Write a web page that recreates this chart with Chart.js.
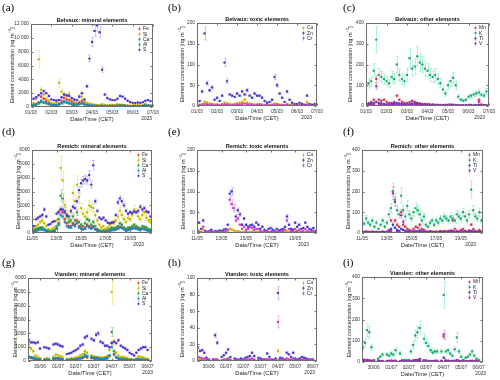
<!DOCTYPE html>
<html><head><meta charset="utf-8">
<script src="https://cdn.jsdelivr.net/npm/chart.js@4.4.1/dist/chart.umd.min.js"></script>
<style>
html,body{margin:0;padding:0;background:#fff;}
#wrap{position:relative;width:500px;height:380px;overflow:hidden;background:#fff;}
#wrap canvas{position:absolute;}
</style></head><body><div id="wrap"></div>
<script>
// ---------------- DATA ----------------
// Belvaux: 01/03 00:00 + i*3 h
const belvauxStartH = 0, belvauxStepH = 3;
const belvauxTickH = [0,24,48,72,96,120,144];
const belvauxTickLabels = ['01/03','02/03','03/03','04/03','05/03','06/03','07/03'];
const belvauxFe = [300,350,450,700,1500,1200,900,600, 400,350,350,500,900,1300,1100,1000, 800,600,500,700,900,600,400,300, 250,200,200,180,200,180,150,200, 200,180,250,300,280,220,180,150, 150,140,160,150,200,300,220,180, 200];
const belvauxSi = [400,600,1200,6900,2500,1800,1200,900, 600,500,700,3500,2200,1800,1500,1900, 1200,800,1000,1600,1500,800,600,500, 400,350,300,300,400,300,250,300, 300,300,400,350,300,200,200,200, 200,250,300,200,300,450,300,250, 300];
const belvauxCa = [200,250,300,500,700,600,500,400, 300,250,250,350,500,700,600,500, 400,300,300,400,500,350,250,200, 200,180,150,150,180,150,120,150, 150,150,200,250,200,180,150,120, 120,110,130,120,150,250,200,150, 180];
const belvauxAl = [300,350,400,600,900,700,600,450, 350,300,300,400,600,800,700,600, 500,400,350,450,550,400,300,250, 200,180,160,150,170,150,130,150, 160,150,200,230,210,180,150,130, 120,110,130,120,150,220,180,150, 170];
const belvauxS = [1100,1200,1400,1700,2000,2300,2000,1600, 1100,1000,950,1000,1400,1800,1700,1600, 1300,1100,1000,1500,2000,1100,3000,7000, 9400,11000,11800,10800,5400,1800,1300,1100, 1000,1000,1200,1600,1500,1200,900,700, 600,600,650,600,700,900,1000,850, 1200];
const belvauxCu = [3,4,5,10,8,6,5,4, 4,3,5,8,6,5,4,5, 6,8,10,15,8,6,5,4, 4,5,4,3,3,3,4,6, 5,4,3,3,5,3,2,2, 2,3,2,2,10,3,2,2, 3];
const belvauxZn = [10,12,35,175,55,38,45,15, 20,12,25,105,60,28,25,22, 30,25,35,28,38,25,20,30, 25,25,20,12,8,10,15,70, 50,30,20,10,35,15,8,5, 5,8,5,3,25,5,3,5, 15];
const belvauxCr = [2,2,3,5,4,3,3,2, 2,2,3,4,3,3,2,3, 3,4,5,6,4,3,3,2, 2,3,2,2,2,2,2,3, 3,2,2,2,3,2,1,1, 1,2,1,1,4,2,1,1, 2];
const belvauxMn = [10,15,20,30,130,30,25,30, 20,15,15,20,50,30,20,15, 15,20,25,20,15,12,10,10, 10,8,8,6,6,5,5,6, 6,8,6,5,4,4,4,4, 4,5,4,5,30,8,5,4, 5];
const belvauxK = [95,110,120,170,320,150,140,130, 120,110,140,130,200,150,130,120, 150,230,180,190,240,210,200,180, 170,150,140,150,130,110,80,60, 100,120,135,100,45,30,25,30, 45,50,55,60,65,55,50,70, 85];
const belvauxTi = [8,10,12,15,20,15,12,10, 8,8,10,12,15,12,10,8, 8,10,12,14,12,10,8,6, 6,5,5,4,4,4,3,4, 4,5,4,4,3,3,3,3, 3,3,3,3,6,4,3,3, 4];
const belvauxV = [5,6,6,8,95,10,8,6, 5,5,6,8,10,8,6,5, 5,6,8,9,8,6,5,4, 4,4,3,3,3,3,3,3, 3,4,3,3,2,2,2,2, 2,2,2,2,20,3,2,2, 3];

// Remich: 11/05 00:00 + i*4 h
const remichStartH = 0, remichStepH = 4;
const remichTickH = [0,48,96,144,192];
const remichTickLabels = ['11/05','13/05','15/05','17/05','19/05'];
const remichFe = [100,150,200,250,300,300, 250,150,100,80,100,150, 350,700,1700,1500,1000,700, 500,500,700,600,900,500, 400,300,400,600,500,400, 500,300,200,150,100,150, 100,150,200,250,250,300, 350,450,400,300,200,250, 300,350,400,350,300,250, 350,300,250,200,150,150];
const remichSi = [200,300,500,600,800,900, 700,500,300,200,300,400, 900,1600,4700,3800,2000,1400, 1000,1500,2900,2300,3500,2600, 1800,1400,1200,1500,2000,1900, 1800,1300,900,600,400,500, 300,400,600,800,700,900, 1200,1600,1300,1000,800,1100, 1000,1300,1700,1500,1200,1000, 1300,1500,1100,900,800,700];
const remichCa = [150,200,300,350,400,400, 300,200,150,100,150,200, 500,1000,2700,2500,1600,1200, 800,900,1200,900,1500,800, 600,500,700,1000,900,600, 800,500,300,200,150,200, 150,200,300,400,350,400, 500,700,600,400,300,400, 400,500,600,500,400,350, 500,450,400,300,250,200];
const remichAl = [80,100,150,200,250,250, 200,120,80,60,80,120, 300,600,1300,1200,800,500, 400,400,600,500,700,400, 300,250,300,500,400,300, 400,250,150,100,80,100, 80,100,150,200,200,250, 300,400,350,250,150,200, 250,300,350,300,250,200, 300,250,200,150,120,100];
const remichS = [400,500,1000,1100,1200,1300, 1700,1200,600,650,800,850, 1400,1500,1700,1700,1500,1300, 1200,1600,1900,1800,2300,3100, 3600,3800,3900,3800,4200,3500, 4900,2300,1600,1100,1000,1100, 900,750,700,720,800,1300, 2200,2500,2300,2000,1600,1400, 1500,1450,1550,1500,1600,1900, 1700,1800,1550,1500,1200,1100];
const remichCu = [3,5,2,8,2,1, 1,2,1,2,1,2, 1,2,3,4,10,8, 6,4,5,3,2,3, 2,2,3,4,2,3, 3,2,1,1,1,1, 1,2,1,1,1,1, 2,3,5,3,2,1, 3,2,3,1,2,3, 2,1,1,2,1,1];
const remichZn = [8,25,10,30,5,3, 5,8,3,5,4,6, 5,8,10,20,95,100, 60,40,55,45,20,35, 20,15,18,20,15,25, 20,10,15,8,5,10, 12,8,5,10,6,8, 10,15,40,20,10,8, 25,15,20,10,12,25, 15,10,8,12,5,8];
const remichCr = [5,3,2,15,3,2, 3,2,2,3,2,3, 2,3,5,8,80,70, 60,30,35,20,10,15, 8,10,15,12,8,10, 10,5,3,3,2,3, 3,4,2,3,2,3, 5,8,30,10,5,3, 10,5,8,3,5,10, 5,3,3,5,2,3];
const remichMn = [10,5,8,6,5,8, 4,6,3,5,8,4, 6,15,60,200,60,40, 30,100,40,30,20,15, 10,20,30,25,40,20, 15,8,6,10,8,6, 8,6,10,8,10,8, 10,12,60,20,10,8, 15,20,10,8,12,40, 20,10,8,15,6,8];
const remichK = [60,45,70,50,40,60, 30,50,20,40,60,30, 50,90,120,200,160,110, 90,180,110,80,130,90, 70,100,120,110,90,60, 80,40,30,50,60,40, 60,50,70,60,80,70, 60,80,70,60,90,80, 70,100,80,60,90,210, 110,80,70,100,60,70];
const remichTi = [5,4,5,4,3,5, 3,4,3,4,5,3, 4,8,20,40,25,15, 10,20,15,10,8,6, 5,8,10,8,12,8, 6,4,3,5,4,3, 4,3,5,4,5,4, 5,6,10,6,5,4, 6,8,5,4,6,10, 8,5,4,6,3,4];
const remichV = [3,3,4,3,3,4, 3,3,2,3,4,3, 3,5,10,190,150,8, 6,85,55,6,5,4, 3,5,6,5,8,5, 4,3,2,3,3,2, 3,2,3,3,3,3, 3,4,6,4,3,3, 4,5,3,3,4,6, 5,3,3,4,2,3];

// Vianden: 30/06 00:00 - 15 h + i*3 h (null = no sample)
const viandenStartH = -15, viandenStepH = 3;
const viandenTickH = [0,24,48,72,96,120,144];
const viandenTickLabels = ['30/06','01/07','02/07','03/07','04/07','05/07','06/07'];
const viandenFe = [250,200,180,130,100,80,null,70,80,70,null,120,160,150,120,110,null,60,60,80,90,100,130,170,200,300,250,null,200,180,160,150,130,120,150,180,350,1300,500,250,170,120,120,100,80,70,70,50,80,120,100,80,70,60];
const viandenSi = [1200,900,700,400,300,200,null,150,200,150,null,300,450,400,350,300,null,150,150,200,200,250,300,400,500,700,600,null,400,350,300,300,250,250,300,350,800,5000,1400,600,400,300,300,250,200,150,150,100,200,350,300,250,200,150];
const viandenCa = [300,250,200,150,120,100,null,80,100,90,null,150,200,180,150,130,null,70,70,90,100,120,150,200,250,350,300,null,250,220,200,180,150,150,180,220,400,2100,700,300,200,150,150,120,100,80,80,60,100,150,120,100,80,70];
const viandenAl = [300,280,250,200,150,120,null,100,120,100,null,180,220,200,170,150,null,80,80,100,110,130,160,220,300,450,350,null,300,260,230,200,170,160,190,230,380,1000,450,260,180,140,140,110,90,80,80,60,90,140,120,100,80,70];
const viandenS = [1500,1350,1350,1300,1350,900,null,1000,950,900,null,1200,1250,1200,1100,1050,null,500,550,600,700,800,900,1100,1200,1700,1800,null,1600,1500,1900,2000,1400,1300,1100,1100,1000,1300,1400,1300,1500,1100,1000,900,800,600,500,400,600,800,900,1000,1000,800];
const viandenCu = [2,2,1,1,1,1,null,1,2,2,null,1,1,1,2,1,null,1,1,1,1,1,1,1,2,2,1,null,1,1,1,1,2,1,1,1,1,12,1,1,1,2,1,1,2,1,1,1,1,1,1,1,1,1];
const viandenZn = [16,12,13,10,4,2,null,2,31,22,null,5,7,10,14,5,null,3,2,2,3,2,4,5,6,10,6,null,4,3,2,2,9,5,2,2,3,82,4,3,2,10,8,5,10,3,2,3,5,4,3,2,2,2];
const viandenCr = [5,4,3,3,2,1,null,1,2,2,null,1,2,2,3,2,null,1,1,1,1,1,1,2,2,3,2,null,2,1,1,1,2,2,1,1,2,47,2,1,1,3,2,2,3,1,1,1,2,2,1,1,1,1];
const viandenMn = [10,8,8,6,5,3,null,3,4,4,null,4,5,5,5,5,null,3,3,3,3,3,4,6,8,10,15,null,8,6,5,4,4,5,5,null,5,120,6,5,4,4,5,8,5,3,3,3,3,4,5,4,3,3];
const viandenK = [70,90,150,140,70,10,null,15,25,35,null,35,30,40,35,55,null,40,10,10,10,10,50,80,125,140,160,null,110,90,75,55,45,50,50,null,50,315,50,55,40,30,60,115,50,25,10,20,25,35,50,30,15,10];
const viandenTi = [5,5,6,5,4,2,null,2,3,3,null,3,3,3,3,3,null,2,2,2,2,2,3,4,5,6,8,null,5,4,3,3,3,3,3,null,3,20,4,3,3,3,4,5,3,2,2,2,2,3,3,2,2,2];
const viandenV = [12,10,10,8,6,4,null,4,5,5,null,5,6,6,6,6,null,4,4,4,4,4,5,7,9,10,12,null,8,6,5,5,5,6,6,null,6,130,7,6,5,5,6,8,6,4,4,4,4,5,6,5,4,4];

// y tick values
const yTicksMineralBelvaux = [0,2000,4000,6000,8000,10000,12000];
const yTicksMineral = [0,1000,2000,3000,4000,5000,6000];
const yTicksToxic200 = [0,50,100,150,200];
const yTicksToxic100 = [0,20,40,60,80,100];
const yTicksOther = [0,100,200,300,400];
// relative uncertainty (error bar half-length / value)
const relUncertainty = {Fe:0.12, Si:0.18, Ca:0.15, Al:0.15, S:0.07, Cu:0.2, Zn:0.09, Cr:0.15, Mn:0.12, K:0.2, Ti:0.2, V:0.15};

// ---------------- STYLE ----------------
const FAM = '"Liberation Sans", Arial, Helvetica, sans-serif';
const SERIF = '"Liberation Serif", "Times New Roman", serif';
const elStyle = {
  Fe:{c:'#e0393c', p:'#f7b9b6'}, Si:{c:'#c4b400', p:'#f3ec9e'}, Ca:{c:'#2f9e3a', p:'#addfa8'},
  Al:{c:'#1d86c2', p:'#a4d2ec'}, S:{c:'#4a2fd6', p:'#cdc5f6'},
  Cu:{c:'#cfac00', p:'#f2e39c'}, Zn:{c:'#4434d0', p:'#c9c3f4'}, Cr:{c:'#d23ccc', p:'#f4bff0'},
  Mn:{c:'#d8344c', p:'#f6b6c0'}, K:{c:'#1fa66c', p:'#aff3d6'}, Ti:{c:'#3439c9', p:'#bcbef1'}, V:{c:'#a624c0', p:'#e4b2ef'}
};

const belv = {start:belvauxStartH, step:belvauxStepH, min:0, max:144, xt:belvauxTickH, xl:belvauxTickLabels};
const remi = {start:remichStartH, step:remichStepH, min:0, max:235, xt:remichTickH, xl:remichTickLabels};
const vian = {start:viandenStartH, step:viandenStepH, min:-16, max:150, xt:viandenTickH, xl:viandenTickLabels};

const panels = [
 {tag:'(a)', title:'Belvaux: mineral elements', site:belv, yt:yTicksMineralBelvaux,
  series:[['Fe',belvauxFe],['Si',belvauxSi],['Ca',belvauxCa],['Al',belvauxAl],['S',belvauxS]],
  ox:0, oy:0, w:165, h:125, box:[31,24,153,107], ytx:12, yearR:152, tagX:2, tagY:8},
 {tag:'(b)', title:'Belvaux: toxic elements', site:belv, yt:yTicksToxic200,
  series:[['Cu',belvauxCu],['Zn',belvauxZn],['Cr',belvauxCr]],
  ox:165, oy:0, w:165, h:125, box:[32,23,152,106], ytx:17, yearR:147, tagX:3, tagY:8},
 {tag:'(c)', title:'Belvaux: other elements', site:belv, yt:yTicksOther,
  series:[['Mn',belvauxMn],['K',belvauxK],['Ti',belvauxTi],['V',belvauxV]],
  ox:330, oy:0, w:170, h:125, box:[36,23,159,106], ytx:20, yearR:155, tagX:13, tagY:8},
 {tag:'(d)', title:'Remich: mineral elements', site:remi, yt:yTicksMineral,
  series:[['Fe',remichFe],['Si',remichSi],['Ca',remichCa],['Al',remichAl],['S',remichS]],
  ox:0, oy:125, w:165, h:125, box:[32,25,152,108], ytx:18, yearR:144, tagX:2, tagY:7},
 {tag:'(e)', title:'Remich: toxic elements', site:remi, yt:yTicksToxic200,
  series:[['Cu',remichCu],['Zn',remichZn],['Cr',remichCr]],
  ox:165, oy:125, w:165, h:125, box:[32,25,152,108], ytx:18, yearR:144, tagX:3, tagY:7},
 {tag:'(f)', title:'Remich: other elements', site:remi, yt:yTicksOther,
  series:[['Mn',remichMn],['K',remichK],['Ti',remichTi],['V',remichV]],
  ox:330, oy:125, w:170, h:125, box:[32,25,153,108], ytx:18, yearR:146, tagX:13, tagY:7},
 {tag:'(g)', title:'Vianden: mineral elements', site:vian, yt:yTicksMineral,
  series:[['Fe',viandenFe],['Si',viandenSi],['Ca',viandenCa],['Al',viandenAl],['S',viandenS]],
  ox:0, oy:250, w:165, h:130, box:[28,28,152,111], ytx:15, yearR:153, tagX:2, tagY:13},
 {tag:'(h)', title:'Vianden: toxic elements', site:vian, yt:yTicksToxic100,
  series:[['Cu',viandenCu],['Zn',viandenZn],['Cr',viandenCr]],
  ox:165, oy:250, w:165, h:130, box:[32,28,152,111], ytx:17, yearR:150, tagX:3, tagY:13},
 {tag:'(i)', title:'Vianden: other elements', site:vian, yt:yTicksOther,
  series:[['Mn',viandenMn],['K',viandenK],['Ti',viandenTi],['V',viandenV]],
  ox:330, oy:250, w:170, h:130, box:[32,27,153,112], ytx:19, yearR:156, tagX:13, tagY:13}
];

function fmtY(v){ return v >= 10000 ? String(v).replace(/(\d)(\d{3})$/, '$1 $2') : String(v); }

const decor = {
  id:'decor',
  beforeDatasetsDraw(chart){
    const p = chart.canvas.$panel; if (!p) return;
    const s = p.site, ctx = chart.ctx, a = chart.chartArea;
    const xs = chart.scales.x, ys = chart.scales.y;
    ctx.save();
    ctx.beginPath(); ctx.rect(a.left, a.top, a.right - a.left, a.bottom - a.top); ctx.clip();
    ctx.lineWidth = 1;
    p.series.forEach(([el, vals]) => {
      const u = relUncertainty[el];
      ctx.strokeStyle = elStyle[el].p;
      ctx.beginPath();
      vals.forEach((v, j) => {
        if (v == null) return;
        const x = Math.round(xs.getPixelForValue(s.start + j * s.step)) + 0.5;
        const y1 = ys.getPixelForValue(v * (1 + u)), y2 = ys.getPixelForValue(v * (1 - u));
        ctx.moveTo(x, y1); ctx.lineTo(x, y2);
        ctx.moveTo(x - 1.5, y1); ctx.lineTo(x + 1.5, y1);
        ctx.moveTo(x - 1.5, y2); ctx.lineTo(x + 1.5, y2);
      });
      ctx.stroke();
    });
    ctx.restore();
  },
  afterDraw(chart){
    const p = chart.canvas.$panel; if (!p) return;
    const ctx = chart.ctx, a = chart.chartArea;
    const xs = chart.scales.x, ys = chart.scales.y;
    ctx.save();
    // box
    ctx.strokeStyle = '#6e6e6e'; ctx.lineWidth = 1;
    const L = Math.round(a.left) + 0.5, R = Math.round(a.right) - 0.5, T = Math.round(a.top) + 0.5, B = Math.round(a.bottom) - 0.5;
    ctx.strokeRect(L, T, R - L, B - T);
    ctx.beginPath();
    xs.ticks.forEach(t => { const x = Math.round(xs.getPixelForValue(t.value)) + 0.5;
      ctx.moveTo(x, B); ctx.lineTo(x, B - 2); ctx.moveTo(x, T); ctx.lineTo(x, T + 2); });
    ys.ticks.forEach(t => { const y = Math.round(ys.getPixelForValue(t.value)) + 0.5;
      ctx.moveTo(L, y); ctx.lineTo(L + 2, y); ctx.moveTo(R, y); ctx.lineTo(R - 2, y); });
    ctx.stroke();
    // title
    ctx.fillStyle = '#111'; ctx.textAlign = 'center'; ctx.textBaseline = 'middle';
    ctx.font = 'bold 5.6px ' + FAM;
    ctx.fillText(p.title, (a.left + a.right) / 2, a.top - 3.5);
    // x title and year
    ctx.fillStyle = '#262626';
    ctx.font = '5.8px ' + FAM;
    ctx.fillText('Date/Time (CET)', (a.left + a.right) / 2, a.bottom + 12);
    ctx.textAlign = 'right'; ctx.font = '4.8px ' + FAM;
    ctx.fillText('2023', p.yearR, a.bottom + 12);
    // y title
    ctx.save();
    ctx.translate(p.ytx, (a.top + a.bottom) / 2); ctx.rotate(-Math.PI / 2);
    const m = 'Element concentration [ng m', sp = '\u22123', en = ']';
    ctx.font = '5.5px ' + FAM; const w1 = ctx.measureText(m).width, w3 = ctx.measureText(en).width;
    ctx.font = '4px ' + FAM; const w2 = ctx.measureText(sp).width;
    let cx = -(w1 + w2 + w3) / 2; ctx.textAlign = 'left';
    ctx.font = '5.5px ' + FAM; ctx.fillText(m, cx, 0); cx += w1;
    ctx.font = '4px ' + FAM; ctx.fillText(sp, cx, -1.8); cx += w2;
    ctx.font = '5.5px ' + FAM; ctx.fillText(en, cx, 0);
    ctx.restore();
    // legend
    ctx.font = '5px ' + FAM; ctx.textAlign = 'left'; ctx.textBaseline = 'middle';
    p.series.forEach(([el], k) => {
      const y = a.top + 5 + k * 5.2, mx = Math.round(a.right - 14) + 0.5;
      ctx.strokeStyle = elStyle[el].p; ctx.lineWidth = 1;
      ctx.beginPath(); ctx.moveTo(mx, y - 2.5); ctx.lineTo(mx, y + 2.5); ctx.stroke();
      ctx.fillStyle = elStyle[el].c; ctx.beginPath(); ctx.arc(mx, y, 1.1, 0, Math.PI * 2); ctx.fill();
      ctx.fillStyle = '#222'; ctx.fillText(el, a.right - 10, y);
    });
    // panel tag
    ctx.fillStyle = '#000'; ctx.font = '11px ' + SERIF; ctx.textAlign = 'left'; ctx.textBaseline = 'middle';
    ctx.fillText(p.tag, p.tagX, p.tagY);
    ctx.restore();
  }
};

const wrap = document.getElementById('wrap');
panels.forEach(p => {
  const cv = document.createElement('canvas');
  cv.width = p.w; cv.height = p.h;
  cv.style.left = p.ox + 'px'; cv.style.top = p.oy + 'px';
  cv.style.width = p.w + 'px'; cv.style.height = p.h + 'px';
  cv.$panel = p;
  wrap.appendChild(cv);
  const [L, T, R, B] = p.box, s = p.site, n = p.series.length;
  new Chart(cv, {
    type:'scatter',
    data:{ datasets: p.series.map(([el, vals], i) => ({
      label: el, order: n - i,
      data: vals.map((v, j) => ({x: s.start + j * s.step, y: v})),
      backgroundColor: elStyle[el].c, borderColor: elStyle[el].c,
      pointRadius: 1.2, pointHoverRadius: 1.2, borderWidth: 0, showLine: false
    }))},
    options:{
      responsive:false, animation:false, devicePixelRatio:1, events:[],
      layout:{padding:{top:T, right:p.w - R, left:0, bottom:0}},
      plugins:{legend:{display:false}, tooltip:{enabled:false}, title:{display:false}},
      scales:{
        x:{type:'linear', min:s.min, max:s.max,
           grid:{display:false, drawTicks:false}, border:{display:false},
           afterBuildTicks: sc => { sc.ticks = s.xt.map(v => ({value:v})); },
           afterFit: sc => { sc.height = p.h - B; },
           ticks:{autoSkip:false, maxRotation:0, minRotation:0, padding:2.5, color:'#333',
                  font:{family:FAM, size:4.8}, callback:(v, i) => s.xl[i]}},
        y:{type:'linear', min:0, max:p.yt[p.yt.length - 1],
           grid:{display:false, drawTicks:false}, border:{display:false},
           afterBuildTicks: sc => { sc.ticks = p.yt.map(v => ({value:v})); },
           afterFit: sc => { sc.width = L; },
           ticks:{padding:2, color:'#333', font:{family:FAM, size:4.8}, callback:(v) => fmtY(v)}}
      }
    },
    plugins:[decor]
  });
});
</script></body></html>
